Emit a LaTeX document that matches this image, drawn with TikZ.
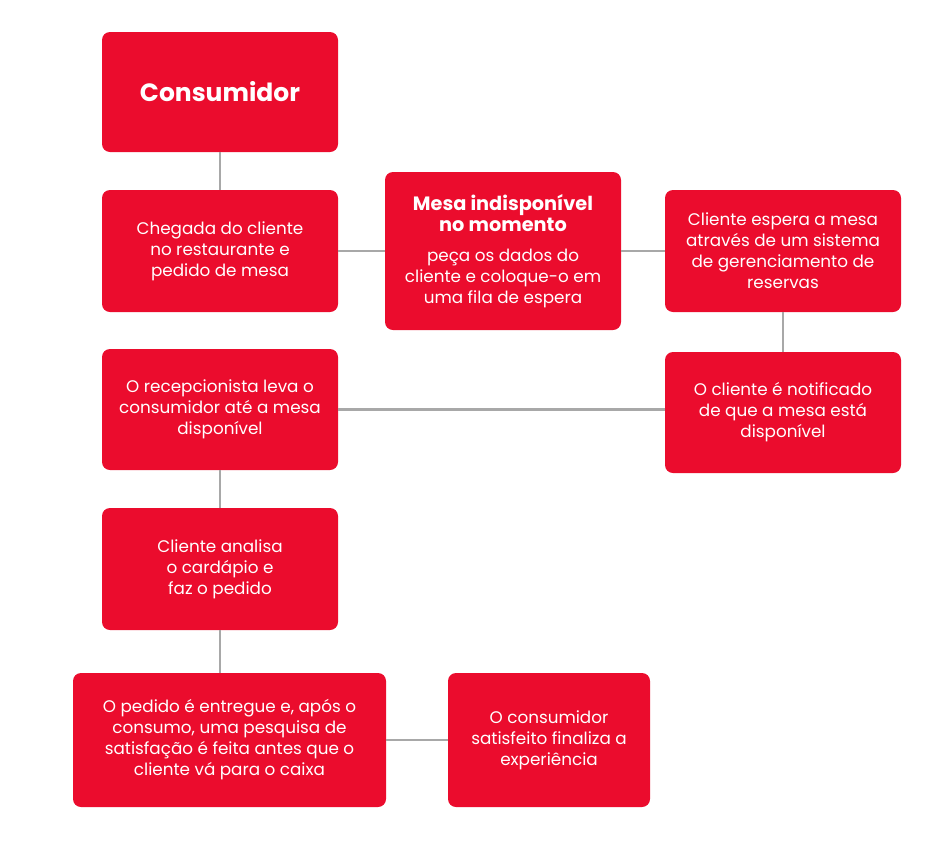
\documentclass[tikz,border=0pt]{standalone}
\usepackage{fontspec}
\setmainfont{Poppins}
\definecolor{boxred}{HTML}{EB0C2D}
\definecolor{linegray}{HTML}{A8A8A8}
\newcommand{\mtitle}{\fontsize{19.3}{23}\selectfont\bfseries}
\newcommand{\mbody}{\fontsize{16.8}{21}\selectfont\mdseries}
\begin{document}
\begin{tikzpicture}[x=1pt,y=-1pt,
  box/.style={fill=boxred,rounded corners=8pt,text=white,align=center,inner sep=0pt,
    font=\fontsize{16.8}{21}\selectfont},
  conn/.style={draw=linegray,line width=2.6pt}]
\useasboundingbox (0,0) rectangle (934,841);
\node[box,minimum width=236pt,minimum height=120pt,font=\fontsize{25}{30}\selectfont\bfseries] (cons) at (220,92) {Consumidor};
\node[box,minimum width=236pt,minimum height=122pt] (cheg) at (220,251) {Chegada do cliente\\no restaurante e\\pedido de mesa};
\node[box,minimum width=236pt,minimum height=158pt] (mesa) at (503,251) {\mtitle Mesa indisponível\\\mtitle no momento\\[9pt]\mbody peça os dados do\\\mbody cliente e coloque-o em\\\mbody uma fila de espera};
\node[box,minimum width=236pt,minimum height=122pt] (esp) at (783,251) {Cliente espera a mesa\\através de um sistema\\de gerenciamento de\\reservas};
\node[box,minimum width=236pt,minimum height=121pt] (rec) at (220,409.5) {O recepcionista leva o\\consumidor até a mesa\\disponível};
\node[box,minimum width=236pt,minimum height=121pt] (not) at (783,412.5) {O cliente é notificado\\de que a mesa está\\disponível};
\node[box,minimum width=236pt,minimum height=122pt] (ana) at (220,569) {Cliente analisa\\o cardápio e\\faz o pedido};
\node[box,minimum width=313pt,minimum height=134pt] (ped) at (229.5,740) {O pedido é entregue e, após o\\consumo, uma pesquisa de\\satisfação é feita antes que o\\cliente vá para o caixa};
\node[box,minimum width=202pt,minimum height=134pt] (sat) at (549,740) {O consumidor\\satisfeito finaliza a\\experiência};
\draw[conn] (cons.south) -- (cheg.north);
\draw[conn] (cheg.east) -- (mesa.west);
\draw[conn] (mesa.east) -- (esp.west);
\draw[conn] (esp.south) -- (not.north);
\draw[conn] (not.west |- rec.east) -- (rec.east);
\draw[conn] (rec.south) -- (ana.north);
\draw[conn] (ana.south) -- (ana.south |- ped.north);
\draw[conn] (ped.east) -- (sat.west);
\end{tikzpicture}
\end{document}
